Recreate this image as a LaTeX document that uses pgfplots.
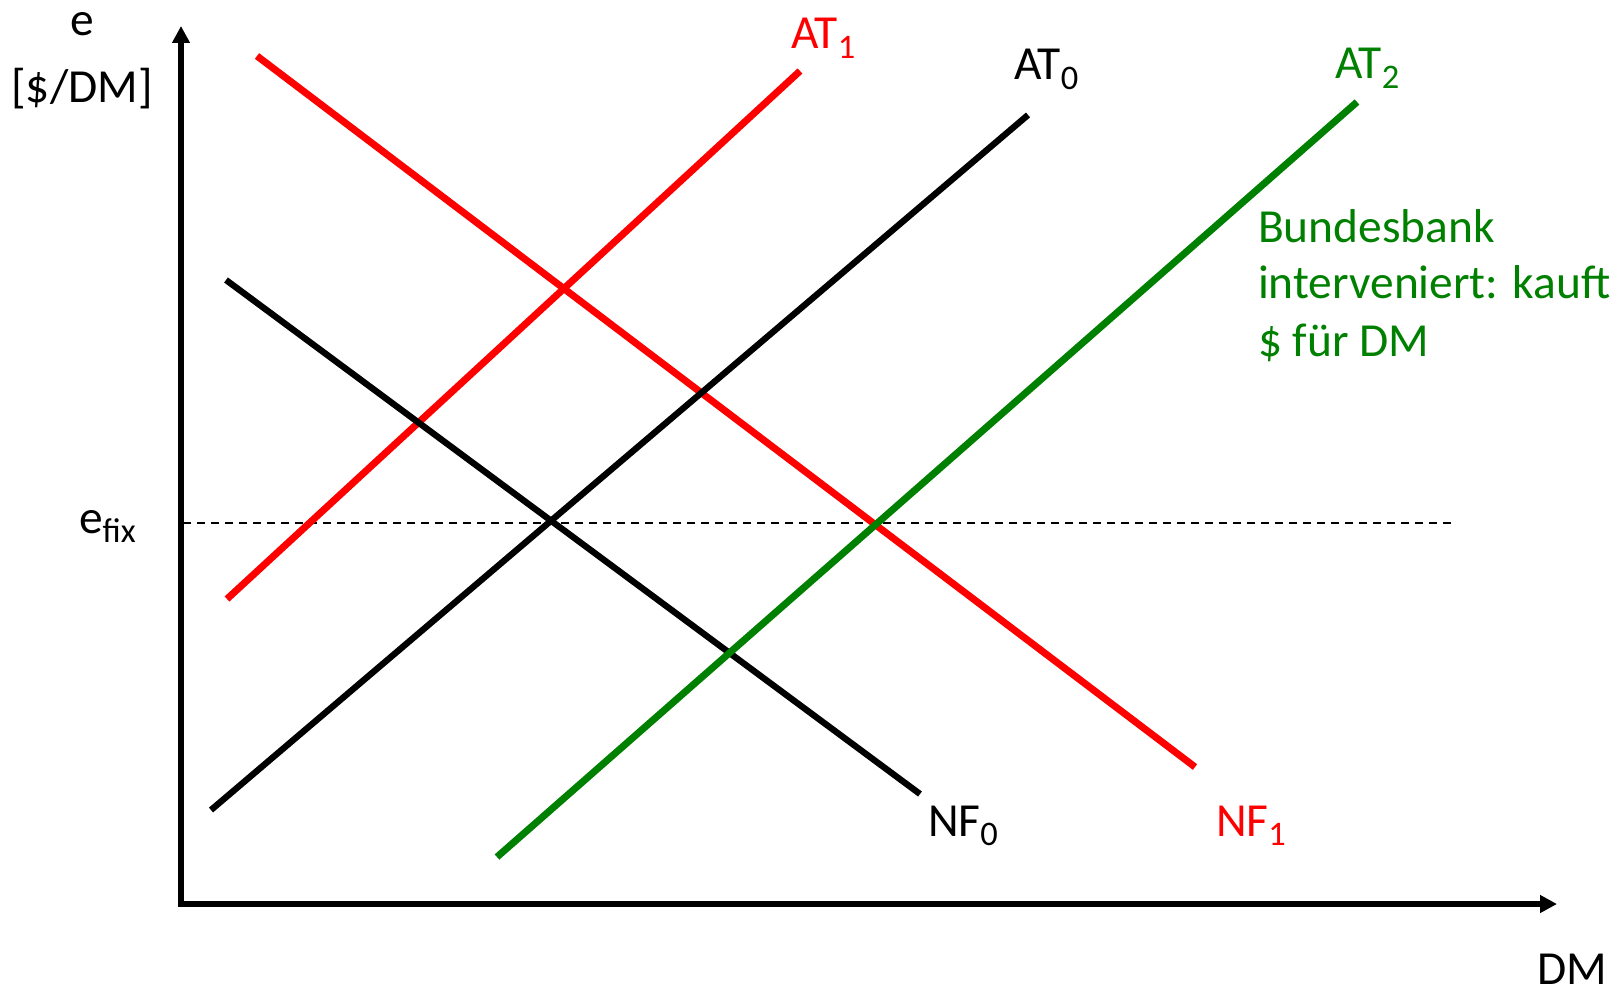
\documentclass[border=0pt]{standalone}
\usepackage{pgfplots}
\pgfplotsset{compat=1.18}
\usepackage{fontspec}
\setmainfont{Carlito}
\usetikzlibrary{arrows.meta}
\definecolor{pred}{RGB}{255,0,0}
\definecolor{pgreen}{RGB}{0,128,0}
\newcommand\sub[1]{\raisebox{-2.7pt}{\fontsize{9.8}{9.8}\selectfont #1}}
\tikzset{lbl/.style={inner sep=0pt, outer sep=0pt, font=\fontsize{13.5}{16.2}\selectfont}}
\begin{document}
\begin{tikzpicture}
\begin{axis}[
  scale only axis, width=16.2cm, height=9.92cm,
  xmin=0, xmax=1620, ymin=0, ymax=992,
  hide axis, clip=false,
]
\path (axis cs:0,0) rectangle (axis cs:1620,992);
% axes
\addplot[black, line width=1.6pt, -{Triangle[length=1.7mm,width=1.7mm]}] coordinates {(181,86) (181,966)};
\addplot[black, line width=1.6pt, -{Triangle[length=1.7mm,width=1.7mm]}] coordinates {(178,88) (1557,88)};
% e_fix dashed
\addplot[black, line width=0.55pt, dash pattern=on 0.8mm off 0.6mm] coordinates {(183,469) (1452,469)};
% curves
\addplot[pred, line width=2pt] coordinates {(227,393) (800,921)};
\addplot[pred, line width=2pt] coordinates {(257,936) (1195,225)};
\addplot[black, line width=1.8pt] coordinates {(226,712) (920,198)};
\addplot[black, line width=1.8pt] coordinates {(211,182) (1028,877)};
\addplot[pgreen, line width=2pt] coordinates {(497,135) (1357,890)};
% labels
\node[lbl, anchor=base] at (axis cs:82,956) {e};
\node[lbl, anchor=base] at (axis cs:82,889) {[\$/DM]};
\node[lbl, anchor=base west] at (axis cs:79,459) {e\sub{fix}};
\node[lbl, anchor=base west] at (axis cs:1537,8) {DM};
\node[lbl, anchor=base west] at (axis cs:928,156) {NF\sub{0}};
\node[lbl, anchor=base west, text=pred] at (axis cs:1216,156) {NF\sub{1}};
\node[lbl, anchor=base west, text=pred] at (axis cs:791,943) {AT\sub{1}};
\node[lbl, anchor=base west] at (axis cs:1014,912) {AT\sub{0}};
\node[lbl, anchor=base west, text=pgreen] at (axis cs:1335,913) {AT\sub{2}};
\node[lbl, anchor=base west, text=pgreen] at (axis cs:1258,749) {Bundesbank};
\node[lbl, anchor=base west, text=pgreen] at (axis cs:1258,693) {interveniert: kauft};
\node[lbl, anchor=base west, text=pgreen] at (axis cs:1258,635) {\$ für DM};
\end{axis}
\end{tikzpicture}
\end{document}
